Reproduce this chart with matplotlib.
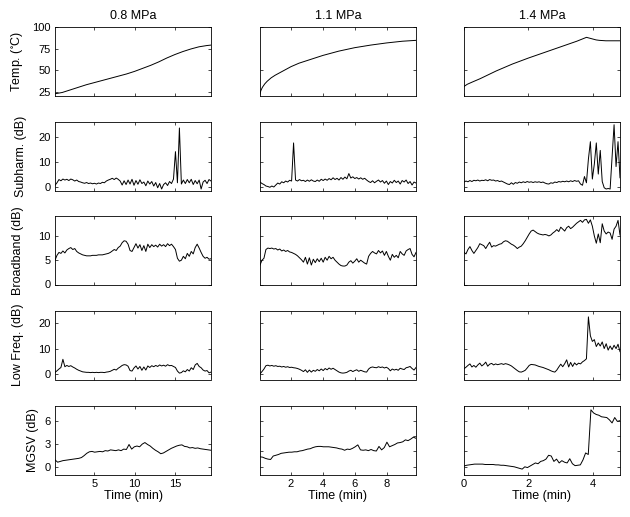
import numpy as np
import matplotlib
matplotlib.use("Agg")
from matplotlib import pyplot as plt

plt.rcParams['font.family'] = ['Liberation Sans', 'DejaVu Sans']
plt.rcParams['mathtext.default'] = 'regular'

# ---------------- data ----------------
titles = ['0.8 MPa', '1.1 MPa', '1.4 MPa']
ylabels = [r'Temp. ($^{\circ}$C)', 'Subharm. (dB)', 'Broadband (dB)',
           'Low Freq. (dB)', 'MGSV (dB)']

# temperature (explicit time stamps, min)
temp08_t = [0.1, 1, 2, 3, 4, 5, 6, 7, 8, 9, 10, 11, 12, 13, 14, 15, 16, 17, 18, 19, 19.5]
temp08 = [22.5, 24, 27, 30, 33, 35.5, 38, 40.5, 43, 45.5, 48.5, 52, 55.5, 59.5, 64,
          68, 71.5, 74.5, 77, 78.5, 79]
temp11_t = [0.05, 0.1, 0.2, 0.35, 0.5, 0.75, 1, 1.5, 2, 2.5, 3, 4, 5, 6, 7, 8, 9, 9.85]
temp11 = [22, 26, 30, 34, 37, 41, 44, 49, 54, 58, 61, 67, 72, 76, 79, 81.5, 83.5, 84.5]
temp14_t = [0, 0.1, 0.25, 0.5, 1, 1.5, 2, 2.5, 3, 3.5, 3.8, 3.9, 4.0, 4.1, 4.2, 4.4,
            4.6, 4.84]
temp14 = [31, 33.5, 36, 40, 49, 57, 64, 70.5, 77, 83.5, 88, 87, 86, 85, 84.5, 84, 84, 84]

# sampled series: 80 samples across each run
sub08 = [0.5, 1.5, 2.8, 2.3, 3.0, 2.6, 2.9, 2.4, 3.0, 2.7, 2.2, 2.6, 2.0, 1.8, 1.5, 1.3,
         1.6, 1.2, 1.4, 1.1, 1.3, 1.0, 1.4, 1.2, 1.7, 1.5, 2.2, 2.6, 2.9, 3.3, 2.8, 3.4,
         2.9, 2.2, 0.6, 2.3, 0.8, 2.6, 1.0, 2.9, 0.5, 2.4, 0.9, 2.7, 1.2, 1.8, 0.3, 2.2,
         1.0, 2.0, 0.2, 1.6, -0.5, 1.2, -1.0, 0.8, 1.5, 0.4, 2.0, 1.2, 3.0, 14.0, 1.5,
         23.5, 1.0, 2.6, 1.2, 2.8, 1.5, 2.9, 0.8, 2.4, 1.1, 2.6, -1.0, 1.8, 2.5, 1.2,
         2.8, 2.2]
sub11 = [1.8, 1.2, 0.8, 0.2, 0.0, -0.3, 0.2, -0.2, 0.6, 1.4, 1.0, 1.9, 1.5, 2.2, 1.8,
         2.5, 2.2, 17.5, 2.6, 2.2, 2.8, 2.3, 2.5, 2.0, 2.6, 2.1, 2.7, 2.2, 2.0, 2.6, 2.1,
         2.9, 2.4, 3.0, 2.5, 3.2, 2.7, 3.5, 2.8, 3.3, 2.6, 3.6, 2.9, 3.8, 3.1, 5.2, 3.4,
         3.9, 3.2, 3.6, 3.0, 3.5, 2.9, 3.3, 2.6, 2.0, 1.6, 2.3, 1.5, 2.1, 2.6, 1.8, 2.4,
         1.3, 2.2, 0.8, 2.0, 1.4, 2.5, 1.6, 2.2, 1.0, 2.4, 1.8, 2.6, 1.2, 2.0, 0.6, 1.8,
         1.4]
sub14 = [1.8, 2.2, 1.9, 2.4, 2.0, 2.5, 2.3, 2.6, 2.2, 2.5, 2.4, 2.7, 2.3, 2.8, 2.5, 2.6,
         2.2, 2.4, 2.0, 2.2, 1.8, 1.4, 1.0, 0.8, 1.5, 0.9, 1.6, 1.3, 1.8, 1.5, 1.9, 1.6,
         2.0, 1.7, 1.9, 1.6, 1.9, 1.7, 1.9, 1.6, 1.8, 1.4, 1.1, 1.0, 1.5, 1.3, 1.8, 1.6,
         2.0, 1.8, 2.1, 1.9, 2.2, 1.9, 2.3, 2.0, 2.4, 2.1, 2.3, 1.0, 0.5, 4.0, 1.5, 11.0,
         18.0, 3.0, 9.0, 17.5, 5.0, 14.5, 2.0, -0.5, -1.0, -0.8, -1.0, 12.0, 24.8, 8.0,
         18.0, 3.5]

bb08 = [5.0, 6.0, 6.6, 6.4, 6.9, 6.5, 7.1, 7.4, 7.6, 7.2, 7.4, 6.8, 6.5, 6.3, 6.1, 6.0,
        5.9, 5.9, 5.9, 6.0, 6.0, 6.0, 6.1, 6.1, 6.1, 6.2, 6.3, 6.4, 6.6, 6.9, 7.2, 7.0,
        7.6, 7.9, 8.6, 9.0, 8.9, 8.3, 7.0, 6.8, 7.6, 8.4, 7.5, 8.2, 7.0, 8.0, 6.8, 8.3,
        7.6, 8.2, 7.8, 8.1, 7.7, 8.3, 7.9, 8.2, 7.8, 8.4, 8.0, 8.3, 7.8, 7.2, 5.4, 4.8,
        5.0, 5.8, 5.3, 6.4, 5.8, 6.8, 6.3, 7.6, 8.3, 7.5, 6.6, 5.8, 5.4, 5.6, 5.2, 5.3]
bb11 = [4.0, 5.0, 5.4, 7.2, 7.5, 7.4, 7.5, 7.3, 7.4, 7.1, 7.3, 6.9, 7.1, 6.8, 7.0, 6.7,
        6.6, 6.4, 6.2, 5.9, 5.5, 5.1, 4.6, 5.6, 4.2, 5.5, 4.0, 5.2, 4.5, 5.3, 4.7, 5.4,
        4.6, 5.6, 5.0, 5.8, 5.3, 5.6, 5.0, 4.6, 4.2, 3.9, 3.8, 3.8, 4.0, 4.6, 4.9, 4.4,
        4.8, 5.3, 4.6, 5.0, 4.7, 4.4, 4.2, 5.8, 6.4, 6.8, 6.5, 6.3, 7.0, 6.5, 6.9, 6.0,
        6.8, 5.8, 5.0, 6.2, 5.6, 6.0, 5.5, 6.8, 6.3, 6.0, 6.9, 7.2, 7.4, 6.2, 5.7, 6.6]
bb14 = [6.6, 6.3, 7.2, 7.8, 7.0, 6.4, 7.0, 7.6, 8.4, 8.2, 8.0, 7.4, 8.1, 8.7, 7.7, 8.0,
        7.9, 8.1, 8.3, 8.4, 8.8, 9.0, 8.9, 8.6, 8.3, 8.1, 7.8, 7.4, 7.7, 7.9, 8.4, 9.0,
        9.7, 10.4, 11.0, 11.2, 10.9, 10.6, 10.4, 10.3, 10.2, 10.3, 10.2, 10.0, 10.2,
        10.6, 10.9, 11.3, 10.9, 11.8, 11.4, 11.0, 11.7, 12.0, 11.5, 11.8, 12.2, 12.6,
        12.9, 13.2, 12.8, 13.3, 13.4, 12.6, 13.3, 12.0, 10.0, 8.5, 10.4, 8.6, 12.5,
        11.0, 10.4, 10.8, 10.6, 9.3, 11.4, 12.0, 13.2, 10.2]

lf08 = [0.7, 1.3, 2.0, 2.6, 5.8, 2.9, 3.4, 3.0, 3.3, 2.8, 2.4, 1.9, 1.5, 1.2, 0.9, 0.8,
        0.7, 0.7, 0.6, 0.7, 0.6, 0.7, 0.6, 0.7, 0.7, 0.6, 0.8, 0.9, 1.1, 1.5, 1.9, 1.6,
        2.3, 2.8, 3.4, 3.7, 3.6, 3.1, 1.4, 1.2, 2.4, 3.2, 2.0, 3.0, 1.5, 2.8, 1.6, 3.2,
        2.6, 3.3, 2.9, 3.4, 3.0, 3.6, 3.2, 3.5, 3.1, 3.7, 3.3, 3.4, 3.0, 2.6, 1.2, 0.4,
        0.6, 1.3, 0.9, 1.8, 1.2, 2.5, 1.8, 3.6, 4.2, 3.0, 2.5, 1.6, 1.2, 1.4, 0.5, 0.8]
lf11 = [0.1, 1.0, 2.0, 3.3, 3.5, 3.2, 3.4, 3.1, 3.3, 3.0, 3.1, 2.8, 3.0, 2.7, 2.9, 2.6,
        2.7, 2.5, 2.4, 2.2, 1.9, 1.5, 1.0, 1.7, 0.7, 1.6, 0.8, 1.5, 1.1, 1.8, 1.3, 2.0,
        1.4, 2.2, 1.7, 2.4, 1.9, 2.3, 1.8, 1.3, 0.8, 0.5, 0.4, 0.5, 0.7, 1.2, 1.5, 1.0,
        1.4, 1.7, 1.1, 1.5, 1.2, 0.9, 0.8, 2.0, 2.6, 2.8, 2.6, 2.5, 2.9, 2.6, 2.8, 2.4,
        2.7, 2.2, 1.3, 2.0, 1.6, 1.9, 1.5, 2.3, 2.0, 1.8, 2.5, 2.7, 3.0, 2.2, 1.6, 2.6]
lf14 = [2.1, 2.7, 3.4, 4.0, 2.8, 3.4, 2.7, 3.6, 4.3, 3.2, 3.8, 4.7, 3.1, 3.9, 4.2, 3.6,
        4.0, 3.7, 3.9, 4.1, 3.8, 4.1, 3.9, 3.6, 3.2, 2.6, 2.0, 1.4, 0.9, 0.8, 1.1, 1.5,
        2.4, 3.4, 3.8, 3.7, 3.6, 3.3, 3.0, 2.8, 2.6, 2.3, 2.0, 1.7, 1.3, 1.0, 0.8, 1.6,
        2.8, 3.9, 2.9, 4.1, 5.6, 2.8, 4.6, 3.0, 4.4, 3.6, 4.3, 4.0, 4.8, 5.3, 6.0, 22.4,
        15.0, 12.8, 13.5, 10.8, 12.2, 11.0, 12.6, 10.0, 11.9, 9.4, 11.0, 9.6, 11.3,
        10.0, 11.7, 8.8]

# MGSV: 60 samples across each run
mg08 = [0.9, 0.6, 0.7, 0.8, 0.85, 0.9, 0.95, 1.0, 1.05, 1.1, 1.2, 1.45, 1.75, 1.95,
        2.0, 1.9, 1.95, 2.0, 1.95, 2.1, 2.05, 2.2, 2.15, 2.1, 2.2, 2.1, 2.3, 2.25, 2.9,
        2.3, 2.6, 2.7, 2.6, 2.95, 3.15, 2.9, 2.7, 2.4, 2.15, 1.95, 1.7, 1.8, 2.0, 2.2,
        2.4, 2.55, 2.7, 2.8, 2.85, 2.65, 2.6, 2.45, 2.5, 2.4, 2.45, 2.35, 2.3, 2.25,
        2.2, 2.15]
mg11 = [1.3, 1.25, 1.1, 1.0, 0.95, 1.4, 1.5, 1.6, 1.75, 1.8, 1.85, 1.9, 1.9, 1.95,
        1.95, 2.05, 2.1, 2.2, 2.3, 2.35, 2.5, 2.6, 2.65, 2.65, 2.6, 2.6, 2.6, 2.55, 2.5,
        2.45, 2.35, 2.3, 2.15, 2.3, 2.25, 2.4, 2.6, 2.85, 2.2, 2.15, 2.2, 2.1, 2.25, 2.1,
        2.05, 2.65, 2.2, 2.5, 3.2, 2.6, 2.75, 2.9, 3.1, 3.15, 3.25, 3.5, 3.4, 3.6, 3.85,
        3.7]
mg14 = [0.1, 0.2, 0.25, 0.3, 0.35, 0.35, 0.35, 0.35, 0.3, 0.3, 0.3, 0.3, 0.25, 0.25,
        0.2, 0.2, 0.15, 0.1, 0.05, 0.0, -0.1, -0.2, -0.3, 0.0, -0.1, 0.1, 0.3, 0.5, 0.4,
        0.7, 0.8, 1.0, 1.5, 1.4, 0.7, 1.0, 0.5, 0.8, 0.6, 0.5, 1.05, 0.4, 0.15, 0.2,
        0.25, 0.9, 1.8, 1.6, 7.4, 7.0, 6.8, 6.7, 6.5, 6.45, 6.4, 6.1, 5.7, 6.4, 5.9, 6.0]

xlims = [(0.1, 19.5), (0.05, 9.85), (0, 4.84)]
xticks = [[5, 10, 15], [2, 4, 6, 8], [0, 2, 4]]
ylims = [(20.5, 100), (-1.6, 25.9), (0, 14.1), (-2.1, 24.7), (-1.0, 7.9)]
yticks_first = [[25, 50, 75, 100], [0, 10, 20], [0, 5, 10], [0, 10, 20], [0, 3, 6]]
yticks_other = [[50, 100], [0, 10, 20], [0, 5, 10], [0, 10, 20], [0, 2, 4, 6]]
ylabel_x = [25, 27, 24, 24, 39]   # right edge of the rotated label, px from left

temps = [(temp08_t, temp08), (temp11_t, temp11), (temp14_t, temp14)]
rows = [[sub08, sub11, sub14], [bb08, bb11, bb14], [lf08, lf11, lf14],
        [mg08, mg11, mg14]]

# ---------------- figure ----------------
fig = plt.figure(figsize=(6.3, 5.17), dpi=100)
lefts = [55, 260, 464]
tops = [27, 122, 216, 311, 406]
w, h = 156, 68.5

for c in range(3):
    for r in range(5):
        ax = fig.add_axes([lefts[c] / 630, 1 - (tops[r] + h) / 517, w / 630, h / 517])
        if r == 0:
            tx, ty = temps[c]
        else:
            ty = rows[r - 1][c]
            tx = np.linspace(xlims[c][0], xlims[c][1], len(ty))
        ax.plot(tx, ty, color='black', lw=0.7)
        ax.set_xlim(*xlims[c])
        ax.set_ylim(*ylims[r])
        ax.set_xticks(xticks[c])
        ax.set_yticks(yticks_first[r] if c == 0 else yticks_other[r])
        ax.tick_params(direction='in', top=True, right=True, length=2.5,
                       width=0.5, labelsize=8, pad=3)
        for s in ax.spines.values():
            s.set_linewidth(0.6)
        if r < 4:
            ax.set_xticklabels([])
        else:
            ax.set_xlabel('Time (min)', fontsize=9, labelpad=1)
        if c == 0:
            ax.set_ylabel(ylabels[r], fontsize=9)
            ax.yaxis.set_label_coords((ylabel_x[r] - lefts[0]) / w, 0.5)
        else:
            ax.set_yticklabels([])
        if r == 0:
            ax.set_title(titles[c], fontsize=9, pad=6)

fig.savefig('out.png', dpi=100)
